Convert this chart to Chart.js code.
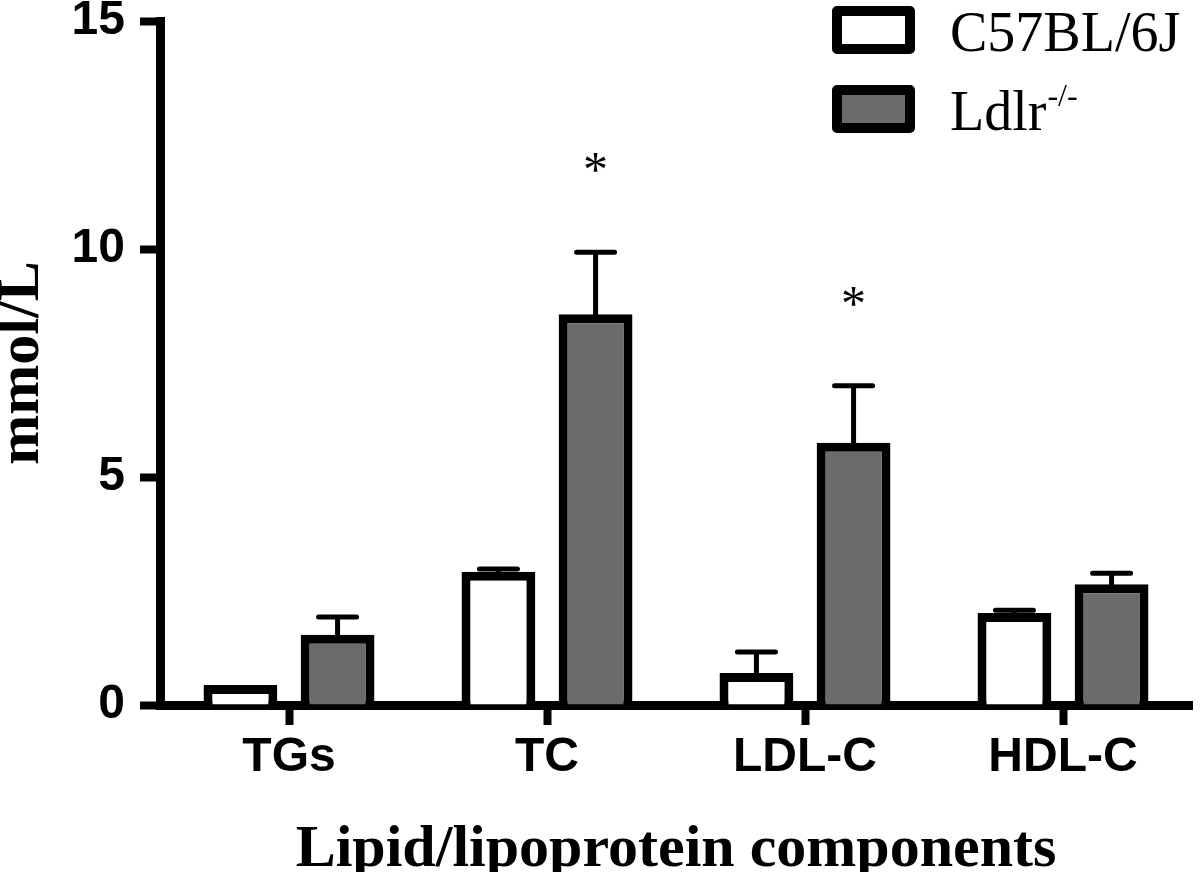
<!DOCTYPE html>
<html><head><meta charset="utf-8">
<script src="https://cdn.jsdelivr.net/npm/chart.js@4.4.0/dist/chart.umd.min.js"></script>
<style>html,body{margin:0;padding:0;background:#fff;}#wrap{width:1200px;height:872px;}</style>
</head><body><div id="wrap"><canvas id="c" width="1200" height="872"></canvas></div>
<script>
const categories = ['TGs', 'TC', 'LDL-C', 'HDL-C'];
const seriesNames = ['C57BL/6J', 'Ldlr'];
const seriesSup = ['', '-/-'];
const c57Means = [0.44, 2.92, 0.70, 2.02];
const c57Errors = [0.0, 0.06, 0.46, 0.06];
const ldlrMeans = [1.54, 8.57, 5.75, 2.65];
const ldlrErrors = [0.39, 1.36, 1.25, 0.24];
const c57Significant = [false, false, false, false];
const ldlrSignificant = [false, true, true, false];
const yTickValues = [0, 5, 10, 15];
const xTitle = 'Lipid/lipoprotein components';
const yTitle = 'mmol/L';

const errorBarPlugin = {
  id: 'errorBars',
  afterDatasetsDraw(chart) {
    const ctx = chart.ctx, ys = chart.scales.y;
    chart.data.datasets.forEach((ds, di) => {
      const meta = chart.getDatasetMeta(di);
      meta.data.forEach((bar, i) => {
        const e = ds.errors[i];
        let yTop = ys.getPixelForValue(ds.data[i] + (e || 0));
        if (e) {
          ctx.save();
          ctx.strokeStyle = '#000';
          ctx.lineWidth = 5;
          ctx.lineCap = 'round';
          ctx.beginPath();
          ctx.moveTo(bar.x, bar.y);
          ctx.lineTo(bar.x, yTop);
          ctx.moveTo(bar.x - 19, yTop);
          ctx.lineTo(bar.x + 19, yTop);
          ctx.stroke();
          ctx.restore();
        }
        if (ds.significant[i]) {
          ctx.save();
          ctx.fillStyle = '#000';
          ctx.font = '50px "Liberation Serif"';
          ctx.textAlign = 'center';
          ctx.textBaseline = 'alphabetic';
          ctx.fillText('*', bar.x, yTop - 66);
          ctx.restore();
        }
      });
    });
  }
};

const legendPlugin = {
  id: 'customLegend',
  afterDraw(chart) {
    const ctx = chart.ctx;
    const boxes = [{y: 6}, {y: 85}];
    chart.data.datasets.forEach((ds, i) => {
      const by = boxes[i].y;
      ctx.save();
      ctx.fillStyle = ds.backgroundColor;
      ctx.strokeStyle = '#000';
      ctx.lineWidth = 10;
      ctx.lineJoin = 'round';
      ctx.fillRect(837, by + 5, 73, 38);
      ctx.strokeRect(837, by + 5, 73, 38);
      ctx.fillStyle = '#000';
      ctx.font = '56px "Liberation Serif"';
      ctx.textAlign = 'left';
      ctx.textBaseline = 'alphabetic';
      const base = seriesNames[i];
      ctx.fillText(base, 950, by + 45);
      if (seriesSup[i]) {
        const w = ctx.measureText(base).width;
        ctx.font = '32px "Liberation Serif"';
        ctx.fillText(seriesSup[i], 950 + w + 1, by + 21);
      }
      ctx.restore();
    });
  }
};

new Chart(document.getElementById('c'), {
  type: 'bar',
  data: {
    labels: categories,
    datasets: [
      {
        label: seriesNames[0] + seriesSup[0],
        data: c57Means,
        errors: c57Errors,
        significant: c57Significant,
        backgroundColor: '#ffffff',
        borderColor: '#000000',
        borderWidth: 9,
        categoryPercentage: 0.753,
        barPercentage: 0.76
      },
      {
        label: seriesNames[1] + seriesSup[1],
        data: ldlrMeans,
        errors: ldlrErrors,
        significant: ldlrSignificant,
        backgroundColor: '#6b6b6b',
        borderColor: '#000000',
        borderWidth: 9,
        categoryPercentage: 0.753,
        barPercentage: 0.76
      }
    ]
  },
  options: {
    responsive: false,
    animation: false,
    devicePixelRatio: 1,
    layout: {padding: {left: 0, right: 8, top: 21, bottom: 0}},
    plugins: {legend: {display: false}, tooltip: {enabled: false}},
    scales: {
      x: {
        z: 1,
        afterFit(s) { s.height = 167; s.paddingLeft = 0; s.paddingRight = 0; },
        grid: {display: true, drawOnChartArea: false, offset: false, tickLength: 20, tickWidth: 8, tickColor: '#000'},
        border: {display: true, color: '#000', width: 9},
        ticks: {color: '#000', padding: 9, font: {family: '"Liberation Sans"', weight: 'bold', size: 48, lineHeight: 1}},
        title: {display: true, text: xTitle, color: '#000', padding: {top: 0, bottom: 1},
          font: {family: '"Liberation Serif"', weight: 'bold', size: 60, lineHeight: 0.7}}
      },
      y: {
        min: 0, max: 15,
        afterFit(s) { s.width = 160; s.paddingTop = 0; s.paddingBottom = 0; },
        afterBuildTicks(s) { s.ticks = yTickValues.map(v => ({value: v})); },
        grid: {display: true, drawOnChartArea: false, tickLength: 20, tickWidth: 8, tickColor: '#000'},
        border: {display: true, color: '#000', width: 9},
        ticks: {color: '#000', padding: 15, font: {family: '"Liberation Sans"', weight: 'bold', size: 48, lineHeight: 0.85}},
        title: {display: true, text: yTitle, color: '#000', padding: {top: 1, bottom: 0},
          font: {family: '"Liberation Serif"', weight: 'bold', size: 60, lineHeight: 0.7}}
      }
    }
  },
  plugins: [errorBarPlugin, legendPlugin]
});
</script>
</body></html>
